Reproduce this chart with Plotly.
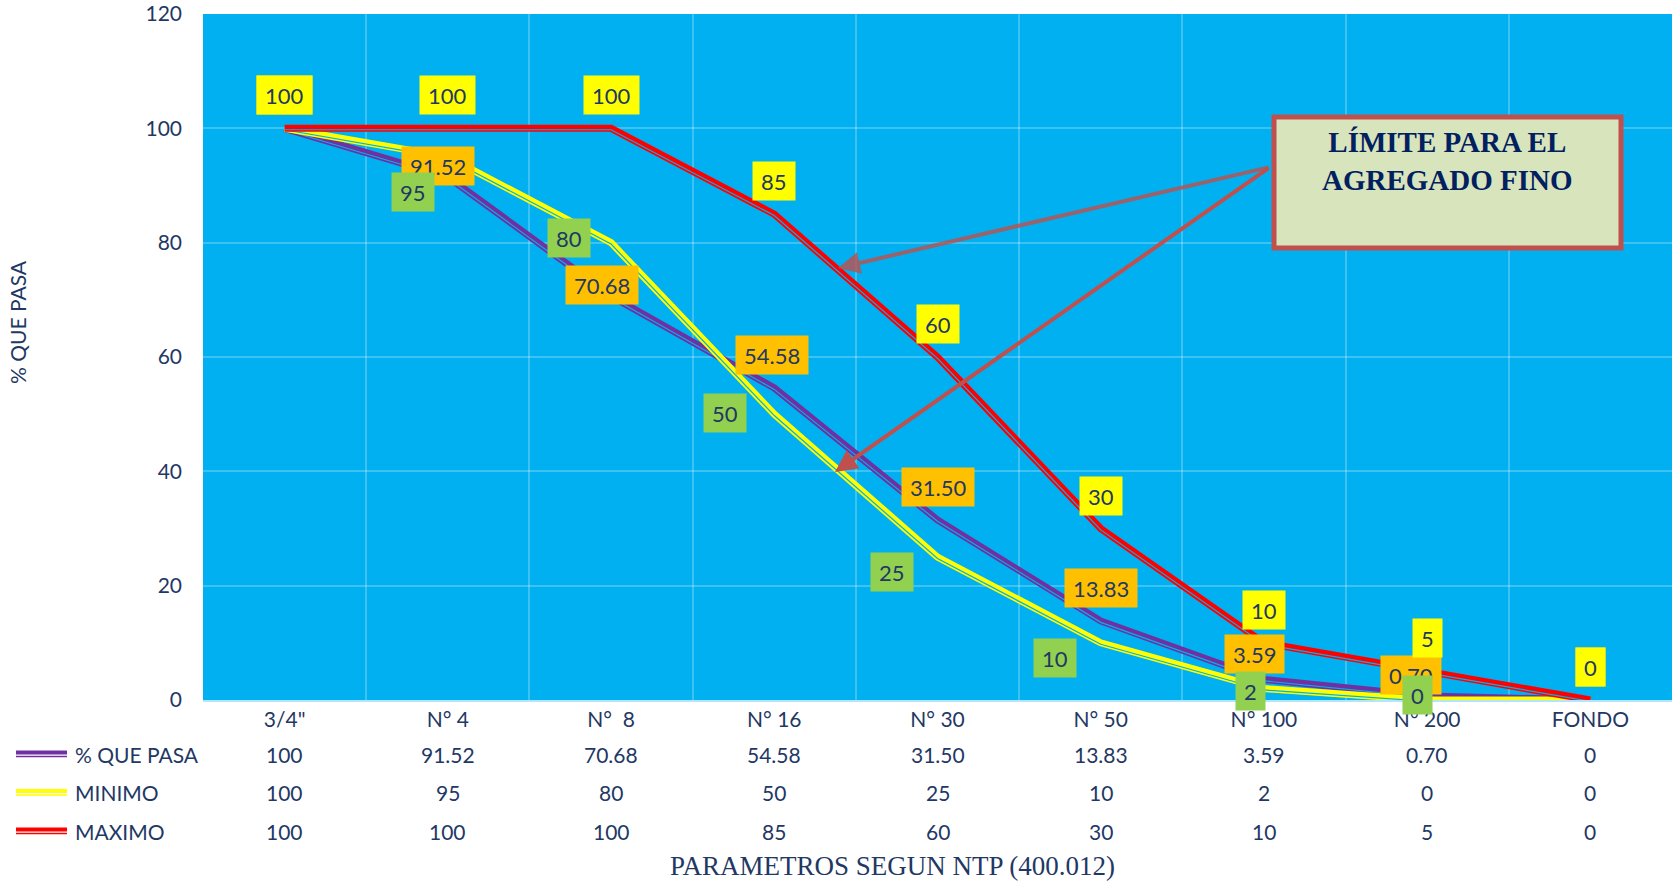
import plotly.graph_objects as go

# Sieve sizes and grading results
categories = ['3/4"', 'N° 4', 'N°\u00a0 8', 'N° 16', 'N° 30', 'N° 50', 'N° 100', 'N° 200', 'FONDO']
pasa = [100, 91.52, 70.68, 54.58, 31.50, 13.83, 3.59, 0.70, 0]
minimo = [100, 95, 80, 50, 25, 10, 2, 0, 0]
maximo = [100, 100, 100, 85, 60, 30, 10, 5, 0]
series_names = ["% QUE PASA", "MINIMO", "MAXIMO"]
y_ticks = [0, 20, 40, 60, 80, 100, 120]

# Canvas / plot area in pixels
W, H = 1675, 883
PX_L, PX_R, PX_T, PX_B = 203, 1672, 14, 700

NAVY = "#1F3864"
BG = "#00B0F0"
LINE_COLORS = ["#7030A0", "#FFFF00", "#FF0000"]
LABEL_FILLS = ["#FFC000", "#92D050", "#FFFF00"]
FONT = "Lato, 'Open Sans', sans-serif"

# data-label offsets in pixels (dx, dy; dy positive = up)
label_offsets = [
    [(0, 33), (-10, 11), (-9, 11), (-2, 33), (0, 33), (0, 33), (-9, 25), (-16, 21), (0, 33)],
    [(0, 33), (-35, -35), (-42, 5), (-49, 1), (-46, -15), (-46, -15), (-13, -2), (-10, 5), (0, 33)],
    [(0, 33)] * 9,
]


def paper_x(px):
    return (px - PX_L) / (PX_R - PX_L)


def paper_y(py):
    return (PX_B - py) / (PX_B - PX_T)


def fmt(v):
    return str(int(v)) if float(v).is_integer() else f"{v:.2f}"


unit_px = (PX_B - PX_T) / 120.0
gap_shift = 1.4 / unit_px

fig = go.Figure()
all_series = [pasa, minimo, maximo]
for vals, name, col in zip(all_series, series_names, LINE_COLORS):
    # compound (double) line: thick stroke with a thin gap slightly below its centre
    fig.add_trace(go.Scatter(x=categories, y=vals, mode="lines", name=name,
                             line=dict(color=col, width=7), hoverinfo="skip",
                             showlegend=False))
    fig.add_trace(go.Scatter(x=categories, y=[v - gap_shift for v in vals], mode="lines",
                             line=dict(color=BG, width=1.2), hoverinfo="skip",
                             showlegend=False))

annotations = []

# data labels
for vals, fill, offs in zip(all_series, LABEL_FILLS, label_offsets):
    for c, v, (dx, dy) in zip(categories, vals, offs):
        annotations.append(dict(
            x=c, y=v, xref="x", yref="y", text=fmt(v), showarrow=False,
            xshift=dx, yshift=dy, bgcolor=fill, borderpad=8, height=22,
            font=dict(family=FONT, size=22, color=NAVY),
        ))

# data table below the axis
row_y = [754, 792.5, 831]
for vals, name, col, ry in zip(all_series, series_names, LINE_COLORS, row_y):
    for c, v in zip(categories, vals):
        annotations.append(dict(
            x=c, y=0, xref="x", yref="paper", yanchor="middle", yshift=-(ry - PX_B),
            text=fmt(v), showarrow=False, font=dict(family=FONT, size=21, color=NAVY),
        ))
    annotations.append(dict(
        x=0, y=0, xref="paper", yref="paper", xanchor="left", yanchor="middle",
        xshift=73 - PX_L, yshift=-(ry - PX_B), text=name, showarrow=False,
        font=dict(family=FONT, size=21, color=NAVY),
    ))

# axis titles
annotations.append(dict(
    x=paper_x(17), y=paper_y(322), xref="paper", yref="paper", text="% QUE PASA",
    textangle=-90, showarrow=False, xanchor="center", yanchor="middle",
    font=dict(family=FONT, size=21, color=NAVY),
))
annotations.append(dict(
    x=paper_x(892), y=paper_y(866), xref="paper", yref="paper",
    text="PARAMETROS SEGUN NTP (400.012)", showarrow=False,
    xanchor="center", yanchor="middle",
    font=dict(family="'Liberation Serif', 'DejaVu Serif', serif", size=27, color=NAVY),
))

# callout box text and arrows
annotations.append(dict(
    x=paper_x(1447), y=paper_y(161), xref="paper", yref="paper",
    text="<b>LÍMITE PARA EL<br>AGREGADO FINO</b>", showarrow=False,
    xanchor="center", yanchor="middle",
    font=dict(family="'Liberation Serif', 'DejaVu Serif', serif", size=29, color="#002060"),
))
tail = (1270, 167)
for head, col in [((838, 268), "rgba(192,80,77,0.8)"), ((835, 472), "#C0504D")]:
    annotations.append(dict(
        x=paper_x(head[0]), y=paper_y(head[1]), xref="paper", yref="paper",
        ax=tail[0] - head[0], ay=tail[1] - head[1], axref="pixel", ayref="pixel",
        text="", showarrow=True, arrowhead=2, arrowsize=1.1, arrowwidth=4,
        arrowcolor=col, standoff=0,
    ))

shapes = [dict(
    type="rect", xref="paper", yref="paper",
    x0=paper_x(1274), x1=paper_x(1621), y0=paper_y(248), y1=paper_y(117),
    fillcolor="#D8E4BC", line=dict(color="#C0504D", width=5), layer="above",
)]

# legend keys of the data table (double lines)
for col, ry in zip(LINE_COLORS, row_y):
    for off, w in [(-1.5, 4), (2.6, 1.5)]:
        shapes.append(dict(
            type="line", xref="paper", yref="paper", xsizemode="pixel", ysizemode="pixel",
            xanchor=0, yanchor=0, x0=16 - PX_L, x1=67 - PX_L,
            y0=-(ry + off - PX_B), y1=-(ry + off - PX_B),
            line=dict(color=col, width=w),
        ))

fig.update_layout(
    width=W, height=H,
    margin=dict(l=PX_L, r=W - PX_R, t=PX_T, b=H - PX_B, pad=0, autoexpand=False),
    paper_bgcolor="white", plot_bgcolor=BG,
    showlegend=False,
    annotations=annotations, shapes=shapes,
    font=dict(family=FONT, size=21, color=NAVY),
)
fig.update_xaxes(
    type="category", categoryorder="array", categoryarray=categories,
    tickson="boundaries", ticks="", showgrid=True,
    gridcolor="rgba(255,255,255,0.24)", gridwidth=2,
    showline=True, linecolor="#B4E6FB", linewidth=2,
    tickfont=dict(family=FONT, size=21, color=NAVY), ticklabelstandoff=0,
    range=[-0.5, 8.5], fixedrange=True, automargin=False,
)
fig.update_yaxes(
    range=[0, 120], tickvals=y_ticks, ticks="", showgrid=True,
    gridcolor="rgba(255,255,255,0.24)", gridwidth=2, zeroline=False,
    tickfont=dict(family=FONT, size=21, color=NAVY), ticklabelstandoff=20,
    ticklabeloverflow="allow", fixedrange=True, automargin=False,
)

fig.write_html("out.html")
